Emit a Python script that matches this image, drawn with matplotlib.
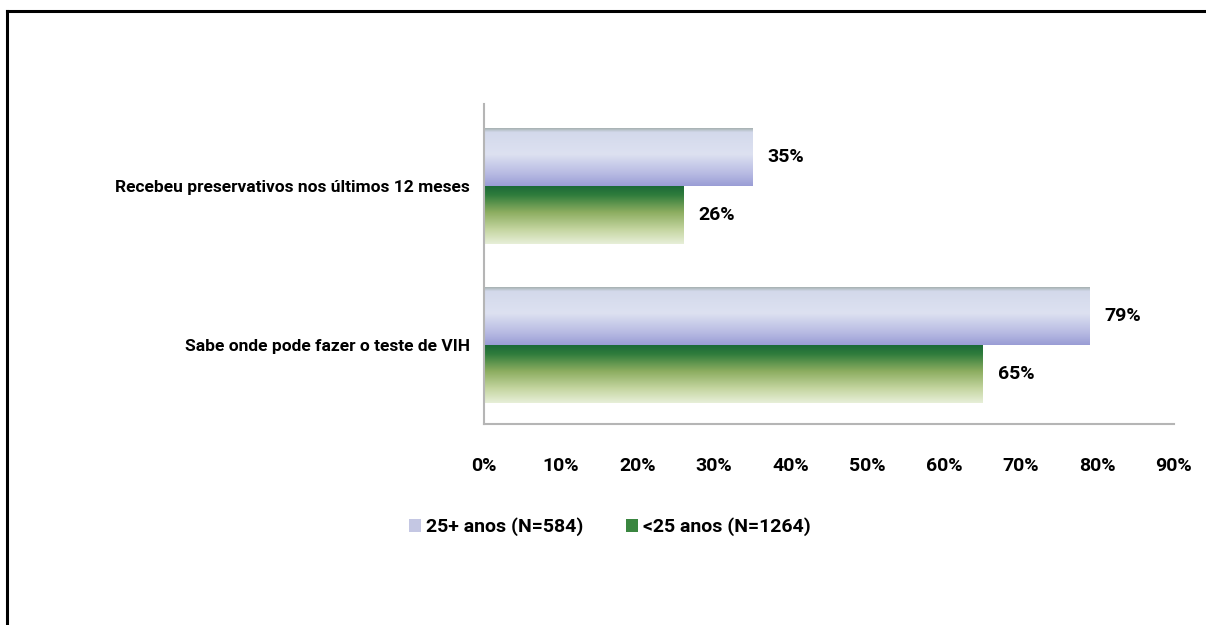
import numpy as np
import matplotlib.pyplot as plt
from matplotlib.colors import LinearSegmentedColormap
from matplotlib.patches import Patch
from matplotlib.lines import Line2D

categories = ['Recebeu preservativos nos últimos 12 meses', 'Sabe onde pode fazer o teste de VIH']
series_names = ['25+ anos (N=584)', '<25 anos (N=1264)']
older = [35, 79]
younger = [26, 65]
xticks = [0, 10, 20, 30, 40, 50, 60, 70, 80, 90]

plt.rcParams['font.family'] = ['Roboto', 'DejaVu Sans']
plt.rcParams['font.weight'] = 'bold'
FS = 12.5      # category labels
FN = 14        # numbers and legend

blue_cmap = LinearSegmentedColormap.from_list('blue', [
    (0.0, '#a7b2b2'), (0.07, '#d3d9eb'), (0.45, '#dde1f1'),
    (0.8, '#b6b9e2'), (1.0, '#9a9dd5')])
green_cmap = LinearSegmentedColormap.from_list('green', [
    (0.0, '#1c6a37'), (0.15, '#2f7c3c'), (0.45, '#8cad60'),
    (0.75, '#c4d5a0'), (1.0, '#e7efd8')])

fig = plt.figure(figsize=(12.06, 6.25), dpi=100)
ax = fig.add_axes([0.4013, 0.3216, 0.5721, 0.512])

h = 0.365
grad = np.linspace(0, 1, 200).reshape(-1, 1)

def gradient_bar(y0, value, cmap):
    # y0 is the visually top edge (axis is inverted)
    ax.imshow(grad, cmap=cmap, origin='lower', aspect='auto',
              extent=[0, value, y0, y0 + h], zorder=2)

for i, (o, y) in enumerate(zip(older, younger)):
    gradient_bar(i - h, o, blue_cmap)
    gradient_bar(i, y, green_cmap)
    ax.annotate(f'{o}%', (o, i - h / 2), xytext=(11, 0), textcoords='offset points',
                va='center', ha='left', fontsize=FN, fontweight='bold')
    ax.annotate(f'{y}%', (y, i + h / 2), xytext=(11, 0), textcoords='offset points',
                va='center', ha='left', fontsize=FN, fontweight='bold')

ax.set_xlim(0, 90)
ax.set_ylim(1.5, -0.52)
ax.set_xticks(xticks)
ax.set_xticklabels([f'{t}%' for t in xticks], fontsize=FN, fontweight='bold')
ax.set_yticks(range(len(categories)))
ax.set_yticklabels(categories, fontsize=FS, fontweight='bold')
ax.tick_params(axis='x', length=0, pad=24)
ax.tick_params(axis='y', length=0, pad=10)
for s in ['top', 'right']:
    ax.spines[s].set_visible(False)
for s in ['left', 'bottom']:
    ax.spines[s].set_color('#b5b5b5')
    ax.spines[s].set_linewidth(1.5)

handles = [Patch(facecolor='#c4c7e3', edgecolor='none'),
           Patch(facecolor='#3a8640', edgecolor='none')]
fig.legend(handles, series_names, loc='center', bbox_to_anchor=(610 / 1206, 1 - 527 / 625),
           ncol=2, frameon=False, handlelength=0.62, handleheight=0.62,
           handletextpad=0.26, columnspacing=2.2, prop={'weight': 'bold', 'size': FN})

# outer frame (top and left edges only visible)
fig.add_artist(Line2D([6.5 / 1206, 1], [1 - 10.5 / 625] * 2, color='black', lw=2.2))
fig.add_artist(Line2D([6.5 / 1206] * 2, [0, 1 - 10.5 / 625], color='black', lw=2.2))

fig.savefig('out.png', dpi=100)
